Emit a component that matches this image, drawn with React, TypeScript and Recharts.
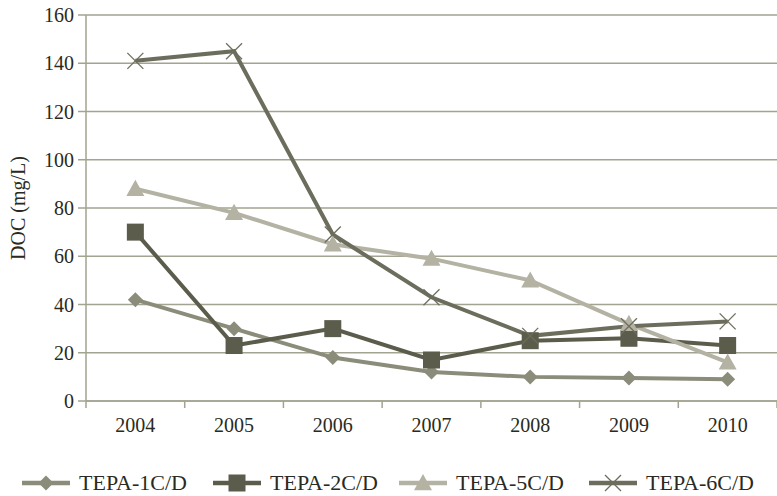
import { LineChart, Line, XAxis, YAxis, CartesianGrid, Legend } from 'recharts';

const years = ['2004', '2005', '2006', '2007', '2008', '2009', '2010'];
const tepa1 = [42, 30, 18, 12, 10, 9.5, 9];
const tepa2 = [70, 23, 30, 17, 25, 26, 23];
const tepa5 = [88, 78, 65, 59, 50, 32, 16];
const tepa6 = [141, 145, 69, 43, 27, 31, 33];
const yTicks = [0, 20, 40, 60, 80, 100, 120, 140, 160];

const data = years.map((y, i) => ({
  x: i + 0.5,
  year: y,
  t1: tepa1[i],
  t2: tepa2[i],
  t5: tepa5[i],
  t6: tepa6[i],
}));

const xTicks = [0, 0.5, 1, 1.5, 2, 2.5, 3, 3.5, 4, 4.5, 5, 5.5, 6, 6.5, 7];

const FONT = '"Liberation Serif", "Times New Roman", serif';
const AXIS = '#a3a391';
const TEXT = '#2a2a22';

const series = [
  { key: 't1', name: 'TEPA-1C/D', color: '#8c8c7a', shape: 'diamond', left: 22 },
  { key: 't2', name: 'TEPA-2C/D', color: '#5c5c4c', shape: 'square', left: 213 },
  { key: 't5', name: 'TEPA-5C/D', color: '#b3b2a3', shape: 'triangle', left: 399 },
  { key: 't6', name: 'TEPA-6C/D', color: '#6d6d5d', shape: 'cross', left: 589 },
];

const Marker = ({ cx, cy, shape, color }: any) => {
  if (cx == null || cy == null) return null;
  if (shape === 'diamond') {
    const r = 7.5;
    return <polygon points={`${cx},${cy - r} ${cx + r},${cy} ${cx},${cy + r} ${cx - r},${cy}`} fill={color} />;
  }
  if (shape === 'square') {
    const r = 8.5;
    return <rect x={cx - r} y={cy - r} width={r * 2} height={r * 2} fill={color} />;
  }
  if (shape === 'triangle') {
    const r = 9;
    return <polygon points={`${cx},${cy - r} ${cx + r},${cy + r * 0.8} ${cx - r},${cy + r * 0.8}`} fill={color} />;
  }
  const r = 8;
  return (
    <g stroke={color} strokeWidth={1.3}>
      <line x1={cx - r} y1={cy - r} x2={cx + r} y2={cy + r} />
      <line x1={cx - r} y1={cy + r} x2={cx + r} y2={cy - r} />
    </g>
  );
};

const XTick = ({ x, y, payload }: any) => {
  const v = payload.value;
  if (Number.isInteger(v)) {
    return <line x1={x} y1={y - 8} x2={x} y2={y - 1} stroke={AXIS} strokeWidth={1.5} />;
  }
  const idx = Math.floor(v);
  return (
    <text x={x} y={y + 23} textAnchor="middle" fontFamily={FONT} fontSize={20} fill={TEXT}>
      {years[idx]}
    </text>
  );
};

const YLabel = ({ viewBox }: any) => {
  const cy = viewBox.y + viewBox.height / 2;
  return (
    <text x={18} y={cy} transform={`rotate(-90, 18, ${cy})`} textAnchor="middle" dominantBaseline="central"
      fontFamily={FONT} fontSize={20} fill={TEXT}>
      DOC (mg/L)
    </text>
  );
};

const LegendContent = () => (
  <div style={{ position: 'relative', height: 24, fontFamily: FONT, fontSize: 22, color: TEXT, lineHeight: '24px' }}>
    {series.map((s) => (
      <div key={s.key} style={{ position: 'absolute', left: s.left, top: 0, display: 'flex', alignItems: 'center' }}>
        <svg width={48} height={24}>
          <line x1={0} y1={12} x2={48} y2={12} stroke={s.color} strokeWidth={4.5} />
          <Marker cx={24} cy={12} shape={s.shape} color={s.color} />
        </svg>
        <span style={{ marginLeft: 9, whiteSpace: 'nowrap' }}>{s.name}</span>
      </div>
    ))}
  </div>
);

export default function App() {
  return (
    <div style={{ position: 'absolute', left: 0, top: 0, width: 777, height: 496, background: '#fff' }}>
      <LineChart width={777} height={496} data={data} margin={{ top: 15, right: 0, left: 0, bottom: 31 }}>
        <CartesianGrid vertical={false} stroke={AXIS} strokeWidth={1.5} />
        <XAxis
          dataKey="x"
          type="number"
          domain={[0, 7]}
          ticks={xTicks}
          interval={0}
          tickLine={false}
          axisLine={{ stroke: AXIS, strokeWidth: 1.5 }}
          tick={<XTick />}
          height={40}
        />
        <YAxis
          domain={[0, 160]}
          ticks={yTicks}
          width={86}
          tickSize={8}
          tickMargin={4}
          tickLine={{ stroke: AXIS, strokeWidth: 1.5 }}
          axisLine={{ stroke: AXIS, strokeWidth: 1.5 }}
          tick={{ fontFamily: FONT, fontSize: 20, fill: TEXT }}
          label={<YLabel />}
        />
        <Legend
          verticalAlign="bottom"
          align="left"
          content={<LegendContent />}
          wrapperStyle={{ position: 'absolute', left: 0, top: 471, bottom: 'auto', width: 777 }}
        />
        {series.map((s) => (
          <Line
            key={s.key}
            dataKey={s.key}
            name={s.name}
            stroke={s.color}
            strokeWidth={4}
            isAnimationActive={false}
            dot={(p: any) => <Marker key={`${s.key}-${p.index}`} cx={p.cx} cy={p.cy} shape={s.shape} color={s.color} />}
            activeDot={false}
          />
        ))}
      </LineChart>
    </div>
  );
}
